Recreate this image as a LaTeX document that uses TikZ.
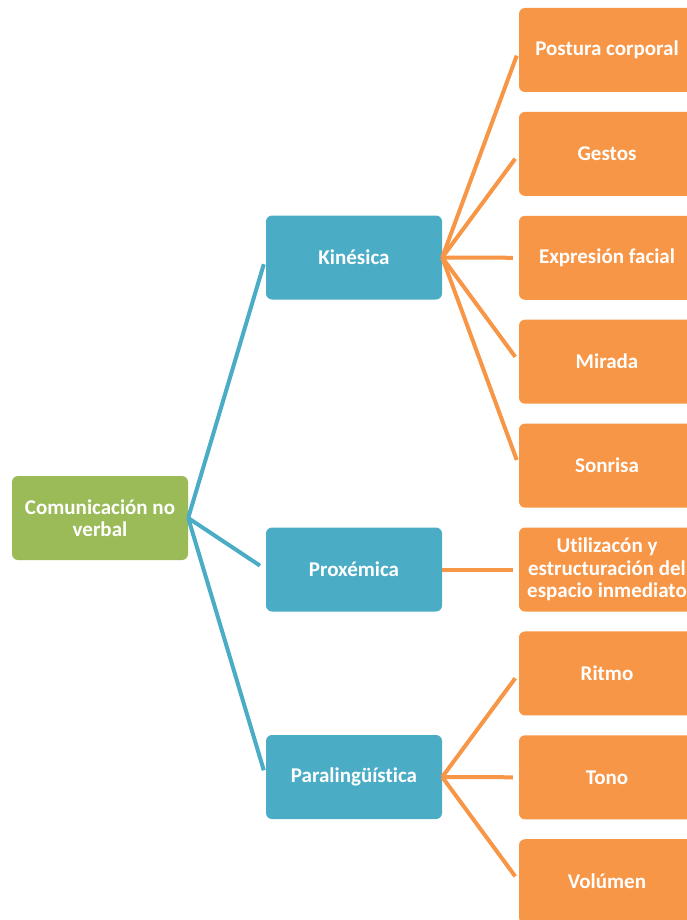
\documentclass[tikz,border=0pt]{standalone}
\usepackage{fontspec}
\setmainfont{Carlito}[Ligatures=NoCommon]
\definecolor{rootgreen}{HTML}{9BBB59}
\definecolor{levblue}{HTML}{4BACC6}
\definecolor{levorange}{HTML}{F79646}
\tikzset{
  box/.style={rounded corners=6pt, minimum width=176pt, minimum height=84pt,
    inner sep=0pt, text=white, align=center,
    font=\bfseries\fontsize{21}{22.5}\selectfont},
  rootbox/.style={box, fill=rootgreen},
  bluebox/.style={box, fill=levblue},
  orangebox/.style={box, fill=levorange},
  blueline/.style={draw=levblue, line width=4pt, shorten >=7pt},
  orangeline/.style={draw=levorange, line width=4pt, shorten >=6pt},
}
\begin{document}
\begin{tikzpicture}[x=1pt, y=-1pt]
    \useasboundingbox (0,0) rectangle (687,920);
    \clip (0,0) rectangle (687,920);
    % root
    \node [rootbox] (com) at (100,518) {Comunicación no\\verbal};
    % first level
    \node [bluebox] (kin) at (354,257.5) {Kinésica};
    \node [bluebox] (prox) at (354,569.5) {Proxémica};
    \node [bluebox] (para) at (354,777) {Paralingüística};
    % second level
    \node [orangebox] (post) at (607,50) {Postura corporal};
    \node [orangebox] (gest) at (607,153.9) {Gestos};
    \node [orangebox] (expr) at (607,257.8) {Expresión facial};
    \node [orangebox] (mir) at (607,361.7) {Mirada};
    \node [orangebox] (sonr) at (607,465.6) {Sonrisa};
    \node [orangebox] (esp) at (607,569.5) {Utilizacón y\\estructuración del\\espacio inmediato};
    \node [orangebox] (ritmo) at (607,673.4) {Ritmo};
    \node [orangebox] (tono) at (607,777.3) {Tono};
    \node [orangebox] (vol) at (607,881.2) {Volúmen};
    % connectors
    \draw [blueline] (com.east) -- (kin.west);
    \draw [blueline] (com.east) -- (prox.west);
    \draw [blueline] (com.east) -- (para.west);
    \draw [orangeline] (kin.east) -- (post.west);
    \draw [orangeline] (kin.east) -- (gest.west);
    \draw [orangeline] (kin.east) -- (expr.west);
    \draw [orangeline] (kin.east) -- (mir.west);
    \draw [orangeline] (kin.east) -- (sonr.west);
    \draw [orangeline] (prox.east) -- (esp.west);
    \draw [orangeline] (para.east) -- (ritmo.west);
    \draw [orangeline] (para.east) -- (tono.west);
    \draw [orangeline] (para.east) -- (vol.west);
\end{tikzpicture}
\end{document}
